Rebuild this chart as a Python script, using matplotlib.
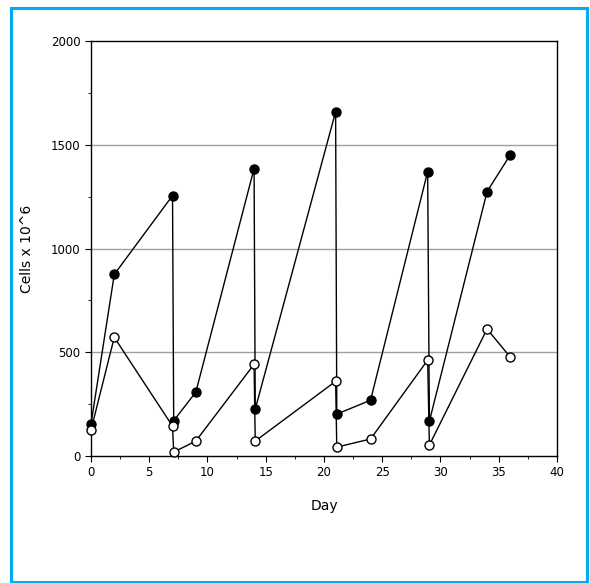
import numpy as np
import matplotlib
matplotlib.use('Agg')
import matplotlib.pyplot as plt
from matplotlib.patches import Rectangle
from matplotlib.ticker import MultipleLocator

# filled circles
day_filled = [0, 2, 7, 7.1, 9, 14, 14.1, 21, 21.1, 24, 28.9, 29.05, 34, 36]
cells_filled = [154, 875, 1255, 170, 308, 1385, 226, 1659, 202, 269, 1370, 168, 1274, 1452]

# open circles
day_open = [0, 2, 7, 7.1, 9, 14, 14.1, 21, 21.1, 24, 28.9, 29.05, 34, 36]
cells_open = [125, 572, 144, 19, 72, 442, 72, 360, 43, 82, 462, 53, 612, 476]

fig = plt.figure(figsize=(5.9, 5.83), dpi=100)
ax = fig.add_axes([0.1542, 0.2178, 0.7898, 0.7119])

ax.plot(day_filled, cells_filled, '-o', color='black', lw=1.0, clip_on=False,
        markersize=6.5, markerfacecolor='black', markeredgecolor='black', zorder=3)
ax.plot(day_open, cells_open, '-o', color='black', lw=1.0, clip_on=False,
        markersize=6.5, markerfacecolor='white', markeredgecolor='black',
        markeredgewidth=1.0, zorder=3)

ax.set_xlim(0, 40)
ax.set_ylim(0, 2000)
ax.xaxis.set_major_locator(MultipleLocator(5))
ax.xaxis.set_minor_locator(MultipleLocator(2.5))
ax.yaxis.set_major_locator(MultipleLocator(500))
ax.yaxis.set_minor_locator(MultipleLocator(250))
ax.tick_params(which='both', direction='out', top=False, right=False, labelsize=8.5)
ax.tick_params(which='major', length=4)
ax.tick_params(which='minor', length=2)
for sp in ax.spines.values():
    sp.set_linewidth(1.0)

for yv in [500, 1000, 1500]:
    ax.axhline(yv, color='#a0a0a0', lw=1.0, zorder=1)

ax.set_xlabel('Day', fontsize=10, labelpad=14)
ax.set_ylabel('Cells x 10^6', fontsize=10, labelpad=12)

fig.patches.append(Rectangle((11 / 590, 1 - 582 / 583), 576 / 590, 574 / 583,
                             transform=fig.transFigure, fill=False,
                             edgecolor='#00aeef', lw=2.2))

fig.savefig('out.png', dpi=100)
